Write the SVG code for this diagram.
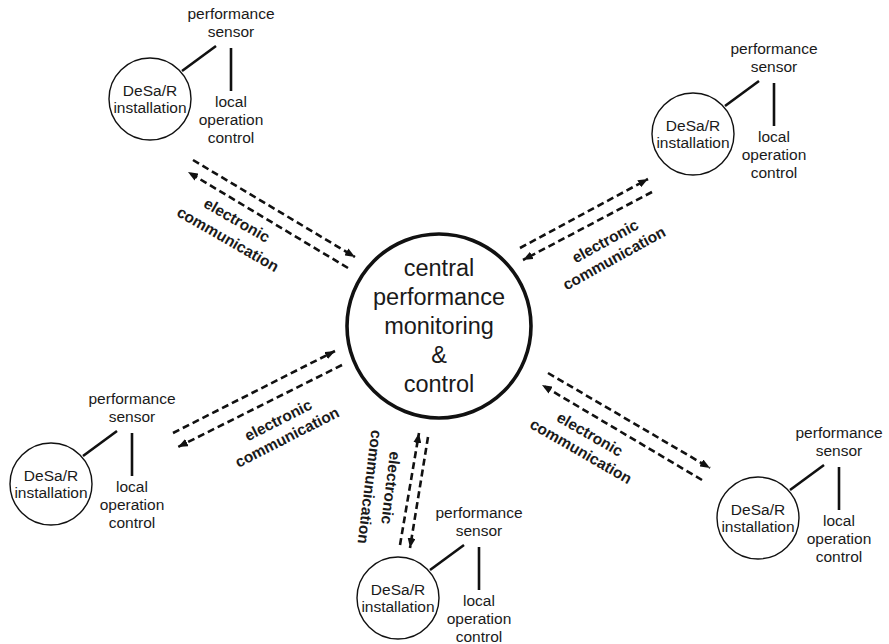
<svg xmlns="http://www.w3.org/2000/svg" width="889" height="644" viewBox="0 0 889 644">
  <style>
    text { font-family: "Liberation Sans", Arial, sans-serif; fill: #1a1a1a; text-anchor: middle; }
    .node-circle { fill: #fff; stroke: #111; stroke-width: 1.4; }
    .hub-circle { fill: #fff; stroke: #111; stroke-width: 3.6; }
    .small { font-size: 15.5px; }
    .hub { font-size: 23.5px; }
    .label { font-size: 15.5px; font-weight: bold; }
    .tie { stroke: #111; stroke-width: 2.6; }
    .link { stroke: #111; stroke-width: 2.6; stroke-dasharray: 7 4; fill: none; marker-end: url(#ah); }
  </style>
  <defs>
    <marker id="ah" viewBox="0 0 10 8" refX="10" refY="4" markerWidth="10" markerHeight="8" markerUnits="userSpaceOnUse" orient="auto">
      <path d="M0,0 L10,4 L0,8 z" fill="#111"/>
    </marker>
    <!-- one installation with its sensor and local control -->
    <g id="station">
      <circle class="node-circle" r="41"/>
      <text class="small" y="-3">DeSa/R</text>
      <text class="small" y="14">installation</text>
      <line class="tie" x1="32" y1="-28" x2="66" y2="-53"/>
      <line class="tie" x1="81" y1="-51" x2="81" y2="-8"/>
      <text class="small" x="81" y="-80">performance</text>
      <text class="small" x="81" y="-62">sensor</text>
      <text class="small" x="81" y="8">local</text>
      <text class="small" x="81" y="26">operation</text>
      <text class="small" x="81" y="44">control</text>
    </g>
  </defs>
  <rect width="889" height="644" fill="#fff"/>

  <!-- central hub -->
  <g id="central">
    <circle class="hub-circle" cx="439" cy="326" r="92"/>
    <text class="hub" x="439" y="276">central</text>
    <text class="hub" x="439" y="305">performance</text>
    <text class="hub" x="439" y="334">monitoring</text>
    <text class="hub" x="439" y="363">&amp;</text>
    <text class="hub" x="439" y="392">control</text>
  </g>

  <!-- installations -->
  <g id="station-top-left"><use href="#station" x="150" y="99"/></g>
  <g id="station-top-right"><use href="#station" x="693" y="134"/></g>
  <g id="station-left"><use href="#station" x="51" y="484"/></g>
  <g id="station-bottom"><use href="#station" x="398" y="598"/></g>
  <g id="station-bottom-right"><use href="#station" x="758" y="518"/></g>

  <!-- two-way dashed links -->
  <g id="connectors">
    <line class="link" x1="193" y1="160" x2="355" y2="257"/>
    <line class="link" x1="348" y1="268" x2="188" y2="172"/>

    <line class="link" x1="520" y1="248" x2="648" y2="179"/>
    <line class="link" x1="652" y1="192" x2="523" y2="260"/>

    <line class="link" x1="173" y1="433" x2="335" y2="351"/>
    <line class="link" x1="342" y1="365" x2="178" y2="447"/>

    <line class="link" x1="400" y1="545" x2="419" y2="433"/>
    <line class="link" x1="428" y1="437" x2="410" y2="548"/>

    <line class="link" x1="548" y1="373" x2="710" y2="468"/>
    <line class="link" x1="702" y1="480" x2="542" y2="385"/>
  </g>

  <!-- link labels -->
  <g id="link-labels">
    <text class="label" transform="translate(237,220) rotate(30)" y="5.5">electronic</text>
    <text class="label" transform="translate(228,239) rotate(30)" y="5.5">communication</text>

    <text class="label" transform="translate(605,241) rotate(-29)" y="5.5">electronic</text>
    <text class="label" transform="translate(614,258) rotate(-29)" y="5.5">communication</text>

    <text class="label" transform="translate(278,420) rotate(-27)" y="5.5">electronic</text>
    <text class="label" transform="translate(287,437) rotate(-27)" y="5.5">communication</text>

    <text class="label" transform="translate(391,488) rotate(97)" y="5.5">electronic</text>
    <text class="label" transform="translate(370,487) rotate(97)" y="5.5">communication</text>

    <text class="label" transform="translate(590,434) rotate(30)" y="5.5">electronic</text>
    <text class="label" transform="translate(581,451) rotate(30)" y="5.5">communication</text>
  </g>
</svg>
